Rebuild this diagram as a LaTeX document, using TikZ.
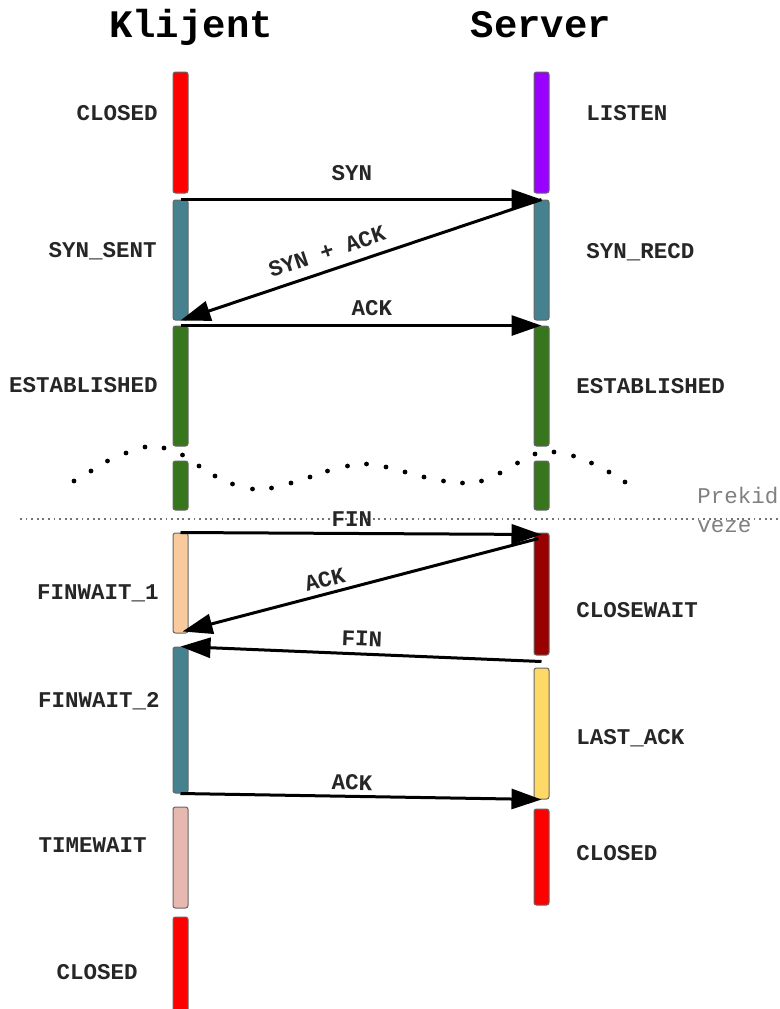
\documentclass[tikz,border=0pt]{standalone}
\usepackage{fontspec}
\setmonofont{Liberation Mono}
\usetikzlibrary{arrows.meta,calc}
\definecolor{cred}{HTML}{FF0000}
\definecolor{cpurple}{HTML}{9900FF}
\definecolor{cteal}{HTML}{45818E}
\definecolor{cgreen}{HTML}{38761D}
\definecolor{cpeach}{HTML}{F9CB9C}
\definecolor{cdarkred}{HTML}{990000}
\definecolor{cyellow}{HTML}{FFD966}
\definecolor{cpink}{HTML}{E6B8AF}
\begin{document}
\begin{tikzpicture}[x=0.5pt,y=-0.5pt,
  bar/.style={draw=black!60, line width=0.5pt, rounded corners=1.2pt, minimum width=7.5pt, inner sep=0pt},
  lbl/.style={font=\ttfamily\bfseries\fontsize{11.25}{13}\selectfont, inner sep=0pt, text height=7pt, text depth=0pt, text=black!85},
  ttl/.style={font=\ttfamily\bfseries\fontsize{19.5}{22}\selectfont, inner sep=0pt, text height=12pt, text depth=0pt},
  note/.style={font=\ttfamily\fontsize{11.25}{13}\selectfont, inner sep=0pt, text=black!50},
  msg/.style={line width=1.5pt, -{Triangle[length=15pt,width=10pt]}},
]
\useasboundingbox (0,0) rectangle (780,1009);

% titles
\node[ttl] (tK) at (191,25) {Klijent};
\node[ttl] (tS) at (541,25) {Server};

% wavy dotted curve
\foreach \px/\py in {74/481,91/471,107.5/461,126/453,145/447,164/448,182.5/455,199/466,215/476,232.5/484,252.5/489,271.5/488,291/483,310/477,327.5/471,347.5/466,366.5/464,386/467,405/472,424/477,443.5/481,462.5/483,481.5/481,500/473,517.5/463,535/454,554/452,573.5/456,591.5/463,609/472,625/482}
  \fill (\px,\py) circle[radius=1.2pt];

% horizontal dotted separator
\coordinate (sepL) at (20,519);
\coordinate (sepR) at (780,519);
\draw[black!55, line width=0.9pt, dash pattern=on 0.9pt off 1.9pt] (sepL) -- (sepR);
\node[note, anchor=base west] (prekid) at (697,503) {Prekid};
\node[note, anchor=base west] (veze) at (697,532) {veze};

% left bars
\node[bar, fill=cred,    minimum height=60.5pt] (lc1) at (180.5,132.5) {};
\node[bar, fill=cteal,   minimum height=60pt]   (ls)  at (180.5,260) {};
\node[bar, fill=cgreen,  minimum height=60pt]   (le)  at (180.5,386) {};
\node[bar, fill=cgreen,  minimum height=24.5pt] (le2) at (180.5,485.5) {};
\node[bar, fill=cpeach,  minimum height=50pt]   (lf1) at (180.5,583) {};
\node[bar, fill=cteal,   minimum height=73pt]   (lf2) at (180.5,720) {};
\node[bar, fill=cpink,   minimum height=50.5pt] (lt)  at (180.5,857.5) {};
\node[bar, fill=cred,    minimum height=52pt]   (lc2) at (180.5,969) {};

% right bars
\node[bar, fill=cpurple, minimum height=60.5pt] (rl)  at (541.5,132.5) {};
\node[bar, fill=cteal,   minimum height=60pt]   (rs)  at (541.5,260) {};
\node[bar, fill=cgreen,  minimum height=60pt]   (re)  at (541.5,386) {};
\node[bar, fill=cgreen,  minimum height=24.5pt] (re2) at (541.5,485.5) {};
\node[bar, fill=cdarkred,minimum height=61pt]   (rcw) at (541.5,594) {};
\node[bar, fill=cyellow, minimum height=65.5pt] (rla) at (541.5,733.5) {};
\node[bar, fill=cred,    minimum height=48pt]   (rc)  at (541.5,857) {};

% state labels left
\node[lbl, anchor=east] (sl1) at (158,113) {CLOSED};
\node[lbl, anchor=east] (sl2) at (157,250) {SYN\_SENT};
\node[lbl, anchor=east] (sl3) at (158,385) {ESTABLISHED};
\node[lbl, anchor=east] (sl4) at (159,592) {FINWAIT\_1};
\node[lbl, anchor=east] (sl5) at (160,700) {FINWAIT\_2};
\node[lbl, anchor=east] (sl6) at (147,845) {TIMEWAIT};
\node[lbl, anchor=east] (sl7) at (138,972) {CLOSED};

% state labels right
\node[lbl, anchor=west] (sr1) at (586,113) {LISTEN};
\node[lbl, anchor=west] (sr2) at (586,251) {SYN\_RECD};
\node[lbl, anchor=west] (sr3) at (576,386) {ESTABLISHED};
\node[lbl, anchor=west] (sr4) at (576,610) {CLOSEWAIT};
\node[lbl, anchor=west] (sr5) at (576,737) {LAST\_ACK};
\node[lbl, anchor=west] (sr6) at (576,853) {CLOSED};

% messages
\draw[msg] (ls.north) -- (rs.north);
\node[lbl] (m1) at (352,173) {SYN};
\draw[msg] (rs.north) -- (ls.south);
\node[lbl, rotate=18.4] (m2) at (327,252) {SYN + ACK};
\draw[msg] (le.north) -- (re.north);
\node[lbl] (m3) at (372,308) {ACK};

\draw[msg] (lf1.north) -- ($(rcw.north)+(0,2)$);
\node[lbl] (m4) at (352,519) {FIN};
\draw[msg] ($(rcw.north)+(-3,6)$) -- ($(lf1.south)+(2,-2)$);
\node[lbl, rotate=14.7] (m5) at (325,580) {ACK};
\draw[msg] ($(rcw.south)!0.5!(rla.north)$) -- (lf2.north);
\node[lbl, rotate=-2.3] (m6) at (362,639) {FIN};
\draw[msg] (lf2.south) -- (rla.south);
\node[lbl, rotate=-1] (m7) at (352,783) {ACK};
\end{tikzpicture}
\end{document}
